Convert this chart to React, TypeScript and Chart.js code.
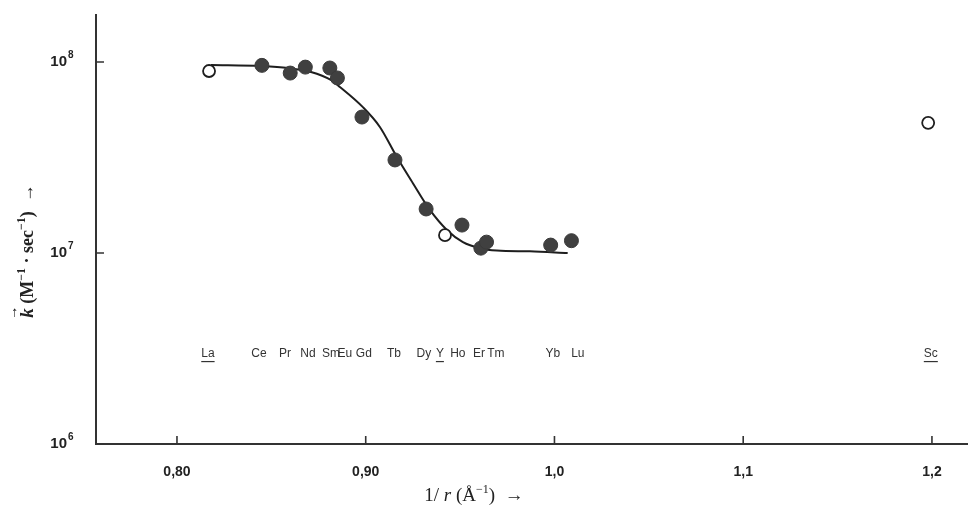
import React, { useEffect, useRef } from "react";
import { Chart, registerables } from "chart.js";

Chart.register(...registerables);

// Filled points (lanthanides)
const filledX = [0.845, 0.860, 0.868, 0.881, 0.885, 0.898, 0.9155, 0.932, 0.951, 0.961, 0.964, 0.998, 1.009];
const filledY = [9.6e7, 8.75e7, 9.4e7, 9.3e7, 8.25e7, 5.15e7, 3.07e7, 1.70e7, 1.40e7, 1.06e7, 1.14e7, 1.10e7, 1.16e7];

// Open points (La, Y, Sc)
const openX = [0.817, 0.942, 1.198];
const openY = [8.97e7, 1.24e7, 4.8e7];

// Fitted curve
const curveX = [0.818, 0.845, 0.859, 0.871, 0.8815, 0.8863, 0.8985, 0.9075, 0.9165, 0.925, 0.934, 0.943, 0.9515, 0.9605, 0.9695, 0.987, 1.007];
const curveY = [9.65e7, 9.53e7, 9.3e7, 8.86e7, 8.05e7, 7.4e7, 5.8e7, 4.57e7, 3.18e7, 2.32e7, 1.68e7, 1.32e7, 1.14e7, 1.06e7, 1.03e7, 1.02e7, 1.0e7];

// Element labels row
const elementNames = ["La", "Ce", "Pr", "Nd", "Sm", "Eu", "Gd", "Tb", "Dy", "Y", "Ho", "Er", "Tm", "Yb", "Lu", "Sc"];
const elementLabelX = [0.8164, 0.8434, 0.8572, 0.8694, 0.8816, 0.889, 0.899, 0.915, 0.9308, 0.9393, 0.9488, 0.96, 0.969, 0.9991, 1.0124, 1.1994];
const underlinedElements = ["La", "Y", "Sc"];
const elementLabelValue = 2.96e6;

// Axis ticks
const xTickValues = [0.8, 0.9, 1.0, 1.1, 1.2];
const xTickLabels = ["0,80", "0,90", "1,0", "1,1", "1,2"];
const yTickValues = [1e6, 1e7, 1e8];
const yTickExponents = ["6", "7", "8"];

type Run = { t: string; font: string; dy?: number };

function drawRuns(ctx: CanvasRenderingContext2D, runs: Run[], cx: number, cy: number) {
  let total = 0;
  for (const r of runs) {
    ctx.font = r.font;
    total += ctx.measureText(r.t).width;
  }
  let x = cx - total / 2;
  const starts: number[] = [];
  for (const r of runs) {
    ctx.font = r.font;
    starts.push(x);
    ctx.fillText(r.t, x, cy + (r.dy || 0));
    x += ctx.measureText(r.t).width;
  }
  return starts;
}

const sans = "'Liberation Sans', Arial, sans-serif";
const serif = "'Liberation Serif', 'Times New Roman', serif";

const decorPlugin = {
  id: "decor",
  afterDatasetsDraw(chart: any) {
    const ctx: CanvasRenderingContext2D = chart.ctx;
    const xs = chart.scales.x;
    const ys = chart.scales.y;
    const area = chart.chartArea;
    ctx.save();
    // inward tick marks
    ctx.strokeStyle = "#333";
    ctx.lineWidth = 1.6;
    ctx.beginPath();
    for (const v of xTickValues) {
      const px = xs.getPixelForValue(v);
      ctx.moveTo(px, area.bottom);
      ctx.lineTo(px, area.bottom - 8);
    }
    for (const v of yTickValues) {
      const py = ys.getPixelForValue(v);
      ctx.moveTo(area.left, py);
      ctx.lineTo(area.left + 8, py);
    }
    ctx.stroke();

    // y tick exponents
    ctx.fillStyle = "#222";
    ctx.textAlign = "left";
    ctx.textBaseline = "middle";
    ctx.font = `bold 10px ${sans}`;
    yTickValues.forEach((v, i) => {
      const py = ys.getPixelForValue(v);
      ctx.fillText(yTickExponents[i], 68, py - 7);
    });

    // element labels
    ctx.fillStyle = "#333";
    ctx.textBaseline = "middle";
    ctx.textAlign = "center";
    ctx.font = `12px ${sans}`;
    const ly = ys.getPixelForValue(elementLabelValue);
    elementNames.forEach((name, i) => {
      const px = xs.getPixelForValue(elementLabelX[i]);
      ctx.fillText(name, px, ly);
      if (underlinedElements.includes(name)) {
        const w = ctx.measureText(name).width;
        ctx.fillRect(px - w / 2, ly + 7, w, 1.2);
      }
    });

    // x axis title
    ctx.fillStyle = "#222";
    ctx.textAlign = "left";
    ctx.textBaseline = "alphabetic";
    drawRuns(
      ctx,
      [
        { t: "1/ ", font: `19px ${serif}` },
        { t: "r", font: `italic 19px ${serif}` },
        { t: " (Å", font: `19px ${serif}` },
        { t: "\u22121", font: `12px ${serif}`, dy: -8 },
        { t: ")  \u2192", font: `19px ${serif}` },
      ],
      474,
      501
    );

    // y axis title (rotated)
    ctx.save();
    ctx.translate(33, 251);
    ctx.rotate(-Math.PI / 2);
    const starts = drawRuns(
      ctx,
      [
        { t: "k", font: `bold italic 19px ${serif}` },
        { t: " (M", font: `bold 18px ${serif}` },
        { t: "\u22121", font: `bold 12px ${serif}`, dy: -8 },
        { t: " \u00b7 sec", font: `bold 18px ${serif}` },
        { t: "\u22121", font: `bold 12px ${serif}`, dy: -8 },
        { t: ")  \u2192", font: `bold 18px ${serif}` },
      ],
      0,
      0
    );
    ctx.font = `bold 14px ${serif}`;
    ctx.fillText("\u2192", starts[0] - 2, -16);
    ctx.restore();

    ctx.restore();
  },
};

export default function App() {
  const canvasRef = useRef<HTMLCanvasElement | null>(null);

  useEffect(() => {
    if (!canvasRef.current) return;
    const chart = new Chart(canvasRef.current, {
      type: "scatter",
      data: {
        datasets: [
          {
            label: "open",
            data: openX.map((x, i) => ({ x, y: openY[i] })),
            pointRadius: 6,
            pointBackgroundColor: "#ffffff",
            pointBorderColor: "#1e1e1e",
            pointBorderWidth: 1.8,
            showLine: false,
          },
          {
            label: "filled",
            data: filledX.map((x, i) => ({ x, y: filledY[i] })),
            pointRadius: 7,
            pointBackgroundColor: "#404040",
            pointBorderColor: "#3a3a3a",
            pointBorderWidth: 1,
            showLine: false,
          },
          {
            type: "line",
            label: "curve",
            data: curveX.map((x, i) => ({ x, y: curveY[i] })),
            borderColor: "#1e1e1e",
            borderWidth: 2,
            pointRadius: 0,
            cubicInterpolationMode: "monotone",
            fill: false,
          } as any,
        ],
      },
      options: {
        animation: false,
        responsive: false,
        maintainAspectRatio: false,
        layout: { autoPadding: false, padding: { top: 15, right: 0, left: 0, bottom: 0 } },
        plugins: {
          legend: { display: false },
          tooltip: { enabled: false },
        },
        scales: {
          x: {
            type: "linear",
            min: 0.7571,
            max: 1.2191,
            grid: { display: false, drawTicks: false },
            border: { display: true, color: "#333", width: 2 },
            ticks: {
              padding: 20,
              color: "#222",
              font: { family: sans, weight: "bold", size: 14 },
              callback: (v: any) => {
                const i = xTickValues.findIndex((t) => Math.abs(t - Number(v)) < 1e-6);
                return i >= 0 ? xTickLabels[i] : "";
              },
            },
            afterBuildTicks: (s: any) => {
              s.ticks = xTickValues.map((v) => ({ value: v }));
            },
            afterFit: (s: any) => {
              s.height = 61;
              s.paddingLeft = 0;
              s.paddingRight = 0;
              s.paddingTop = 0;
              s.paddingBottom = 0;
            },
          },
          y: {
            type: "logarithmic",
            min: 1e6,
            max: 1.762e8,
            grid: { display: false, drawTicks: false },
            border: { display: true, color: "#333", width: 2 },
            ticks: {
              padding: 29,
              color: "#222",
              font: { family: sans, weight: "bold", size: 15 },
              callback: (v: any) => {
                const i = yTickValues.findIndex((t) => Math.abs(t - Number(v)) / t < 1e-6);
                return i >= 0 ? "10" : "";
              },
            },
            afterBuildTicks: (s: any) => {
              s.ticks = yTickValues.map((v) => ({ value: v }));
            },
            afterFit: (s: any) => {
              s.width = 96;
              s.paddingLeft = 0;
              s.paddingRight = 0;
              s.paddingTop = 0;
              s.paddingBottom = 0;
            },
          },
        },
      },
      plugins: [decorPlugin],
    } as any);
    return () => chart.destroy();
  }, []);

  return (
    <div style={{ position: "absolute", left: 0, top: 0, width: 968, height: 505, background: "#fff" }}>
      <canvas ref={canvasRef} width={968} height={505} style={{ display: "block" }} />
    </div>
  );
}
